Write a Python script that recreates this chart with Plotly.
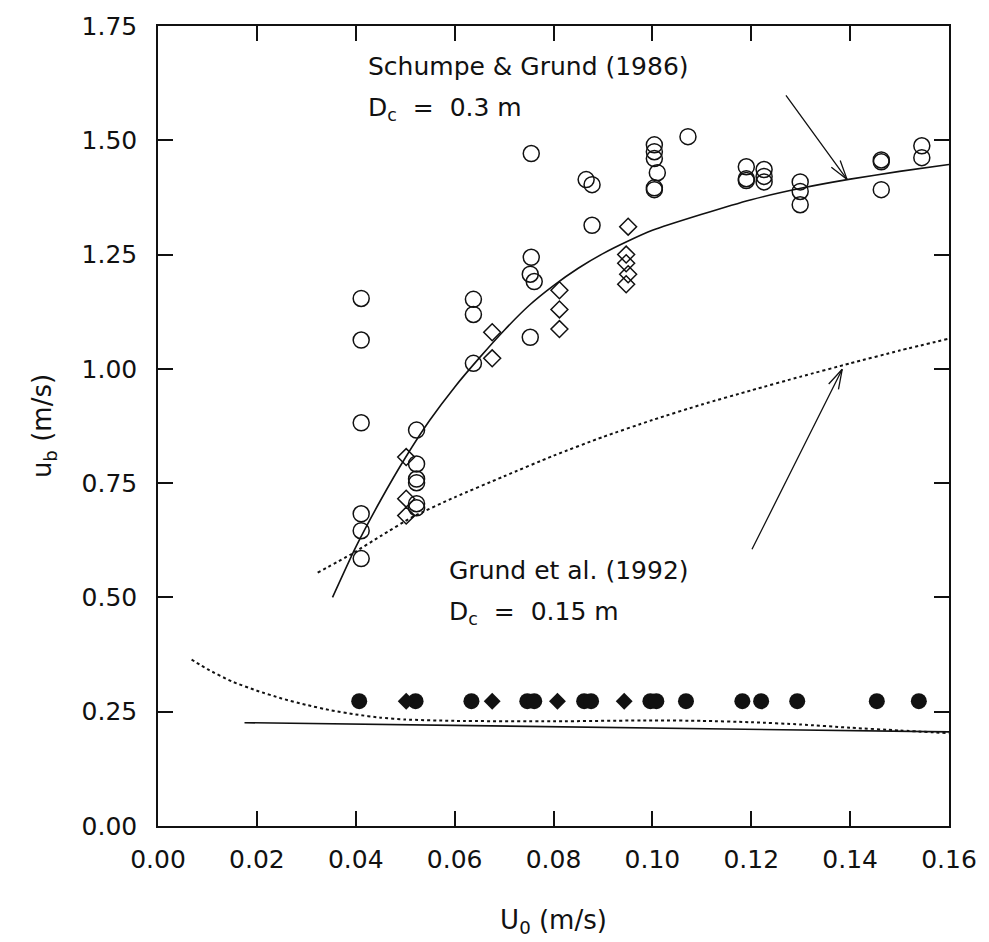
import math
import plotly.graph_objects as go

# ---- data ----
oc_x = [0.0411, 0.0411, 0.0411, 0.0411, 0.0411, 0.0411,
        0.0523, 0.0523, 0.0523, 0.0523, 0.0523, 0.0523,
        0.0638, 0.0638, 0.0638,
        0.0755, 0.0755, 0.0753, 0.0761, 0.0753,
        0.0866, 0.0878, 0.0878,
        0.1004, 0.1004, 0.1004, 0.1010, 0.1004, 0.1004,
        0.1072,
        0.1190, 0.1190, 0.1190,
        0.1226, 0.1226, 0.1226,
        0.1299, 0.1299, 0.1299,
        0.1463, 0.1463, 0.1463,
        0.1545, 0.1545]
oc_y = [1.154, 1.063, 0.882, 0.683, 0.646, 0.585,
        0.866, 0.792, 0.759, 0.751, 0.705, 0.696,
        1.152, 1.119, 1.012,
        1.471, 1.244, 1.207, 1.191, 1.069,
        1.414, 1.403, 1.314,
        1.490, 1.475, 1.460, 1.429, 1.396, 1.392,
        1.508,
        1.442, 1.416, 1.412,
        1.436, 1.421, 1.409,
        1.409, 1.388, 1.359,
        1.457, 1.453, 1.392,
        1.488, 1.462]

od_x = [0.0502, 0.0502, 0.0502,
        0.0676, 0.0676,
        0.0812, 0.0812, 0.0812,
        0.0951, 0.0947, 0.0947, 0.0951, 0.0947]
od_y = [0.807, 0.716, 0.679,
        1.080, 1.023,
        1.172, 1.130, 1.087,
        1.311, 1.250, 1.231, 1.207, 1.185]

fc_x = [0.0407, 0.0521, 0.0634, 0.0747, 0.0761, 0.0862, 0.0876,
        0.0996, 0.1008, 0.1068, 0.1182, 0.1220, 0.1293, 0.1454, 0.1539]
fc_y = [0.273] * len(fc_x)

fd_x = [0.0502, 0.0676, 0.0808, 0.0943]
fd_y = [0.273] * len(fd_x)

# Schumpe & Grund (1986), Dc = 0.3 m  (solid curve)
sg_x = [0.0353, 0.0400, 0.0450, 0.0500, 0.0550, 0.0600, 0.0650, 0.0700,
        0.0750, 0.0800, 0.0850, 0.0900, 0.0950, 0.1000, 0.1100, 0.1200,
        0.1300, 0.1400, 0.1500, 0.1600]
sg_y = [0.500, 0.610, 0.712, 0.805, 0.888, 0.960, 1.024, 1.084,
        1.138, 1.182, 1.220, 1.252, 1.279, 1.303, 1.338, 1.370,
        1.395, 1.415, 1.432, 1.447]

# Grund et al. (1992), Dc = 0.15 m  (dotted curve)
gr_x = [0.0323, 0.0393, 0.0450, 0.0515, 0.0600, 0.0700, 0.0800, 0.0900,
        0.1000, 0.1100, 0.1200, 0.1300, 0.1400, 0.1500, 0.1600]
gr_y = [0.554, 0.596, 0.634, 0.676, 0.719, 0.765, 0.810, 0.851,
        0.888, 0.922, 0.953, 0.983, 1.012, 1.040, 1.066]

# lower curves
lo_dot_x = [0.0068, 0.0100, 0.0150, 0.0200, 0.0250, 0.0300, 0.0350, 0.0400,
            0.0450, 0.0500, 0.0600, 0.0800, 0.1000, 0.1100, 0.1200, 0.1300,
            0.1400, 0.1500, 0.1600]
lo_dot_y = [0.364, 0.343, 0.316, 0.296, 0.279, 0.265, 0.253, 0.244,
            0.237, 0.233, 0.230, 0.229, 0.231, 0.230, 0.227, 0.222,
            0.215, 0.209, 0.203]

lo_sol_x = [0.0175, 0.0414, 0.0791, 0.1175, 0.1600]
lo_sol_y = [0.226, 0.2226, 0.218, 0.2117, 0.2058]

x_ticks = [0.00, 0.02, 0.04, 0.06, 0.08, 0.10, 0.12, 0.14, 0.16]
y_ticks = [0.00, 0.25, 0.50, 0.75, 1.00, 1.25, 1.50, 1.75]

# label arrows: (tail x, tail y, tip x, tip y)
arrows = [(0.1268, 1.6016, 0.1394, 1.414),
          (0.1200, 0.602, 0.1384, 0.999)]

FONT = "DejaVu Sans"
INK = "#111111"
W, H = 989, 942
ML, MR, MT, MB = 158, 39, 24, 116
XR, YR = [0, 0.16], [0, 1.75]
PX_X = (W - ML - MR) / (XR[1] - XR[0])
PX_Y = (H - MT - MB) / (YR[1] - YR[0])

fig = go.Figure()

fig.add_trace(go.Scatter(x=sg_x, y=sg_y, mode="lines",
                         line=dict(color=INK, width=1.6, shape="spline", smoothing=0.6)))
fig.add_trace(go.Scatter(x=gr_x, y=gr_y, mode="lines",
                         line=dict(color=INK, width=2, dash="dot", shape="spline", smoothing=0.6)))
fig.add_trace(go.Scatter(x=lo_dot_x, y=lo_dot_y, mode="lines",
                         line=dict(color=INK, width=2, dash="dot", shape="spline", smoothing=0.6)))
fig.add_trace(go.Scatter(x=lo_sol_x, y=lo_sol_y, mode="lines",
                         line=dict(color=INK, width=1.6)))

fig.add_trace(go.Scatter(x=oc_x, y=oc_y, mode="markers",
                         marker=dict(symbol="circle-open", size=16, color=INK,
                                     line=dict(color=INK, width=1.5))))
fig.add_trace(go.Scatter(x=od_x, y=od_y, mode="markers",
                         marker=dict(symbol="diamond-open", size=13, color=INK,
                                     line=dict(color=INK, width=1.5))))
fig.add_trace(go.Scatter(x=fc_x, y=fc_y, mode="markers",
                         marker=dict(symbol="circle", size=16, color=INK,
                                     line=dict(width=0))))
fig.add_trace(go.Scatter(x=fd_x, y=fd_y, mode="markers",
                         marker=dict(symbol="diamond", size=13, color=INK,
                                     line=dict(width=0))))

NB = "\u00a0"
ann_font = dict(family=FONT, size=25, color=INK)
annotations = [
    dict(x=0.04215, y=1.6605, text="Schumpe & Grund (1986)", xanchor="left",
         yanchor="middle", showarrow=False, font=ann_font),
    dict(x=0.04215, y=1.569, text="D<sub>c</sub>" + NB * 2 + "=" + NB * 2 + "0.3 m",
         xanchor="left", yanchor="middle", showarrow=False, font=ann_font),
    dict(x=0.0585, y=0.5586, text="Grund et al. (1992)", xanchor="left",
         yanchor="middle", showarrow=False, font=ann_font),
    dict(x=0.0585, y=0.467, text="D<sub>c</sub>" + NB * 2 + "=" + NB * 2 + "0.15 m",
         xanchor="left", yanchor="middle", showarrow=False, font=ann_font),
]

HEAD_LEN = 22
HEAD_ANG = math.radians(16)
for tx, ty, hx, hy in arrows:
    annotations.append(dict(x=hx, y=hy, ax=tx, ay=ty, axref="x", ayref="y",
                            xref="x", yref="y", text="", showarrow=True,
                            arrowhead=0, arrowwidth=1.3, arrowcolor=INK,
                            standoff=0, startstandoff=0))
    # direction tip->tail in screen pixels (y down)
    dx = (tx - hx) * PX_X
    dy = -(ty - hy) * PX_Y
    base = math.atan2(dy, dx)
    for s in (-1, 1):
        a = base + s * HEAD_ANG
        annotations.append(dict(x=hx, y=hy, xref="x", yref="y",
                                ax=HEAD_LEN * math.cos(a), ay=HEAD_LEN * math.sin(a),
                                text="", showarrow=True, arrowhead=0,
                                arrowwidth=1.3, arrowcolor=INK,
                                standoff=0, startstandoff=0))

axis_common = dict(showline=True, linecolor=INK, linewidth=1.5, mirror="ticks",
                   ticks="inside", ticklen=15, tickwidth=1.5, tickcolor=INK,
                   showgrid=False, zeroline=False,
                   tickfont=dict(family=FONT, size=25, color=INK))

fig.update_layout(
    width=W, height=H,
    margin=dict(l=ML, r=MR, t=MT, b=MB),
    paper_bgcolor="white", plot_bgcolor="white",
    showlegend=False,
    annotations=annotations,
    xaxis=dict(range=XR, tickvals=x_ticks,
               ticktext=[f"{v:.2f}" for v in x_ticks], ticklabelstandoff=10,
               title=dict(text="U<sub>0</sub> (m/s)", standoff=38,
                          font=dict(family=FONT, size=26, color=INK)),
               **axis_common),
    yaxis=dict(range=YR, tickvals=y_ticks,
               ticktext=[f"{v:.2f}" for v in y_ticks], ticklabelstandoff=14,
               title=dict(text="u<sub>b</sub> (m/s)", standoff=22,
                          font=dict(family=FONT, size=26, color=INK)),
               **axis_common),
)

fig.write_html("out.html")
